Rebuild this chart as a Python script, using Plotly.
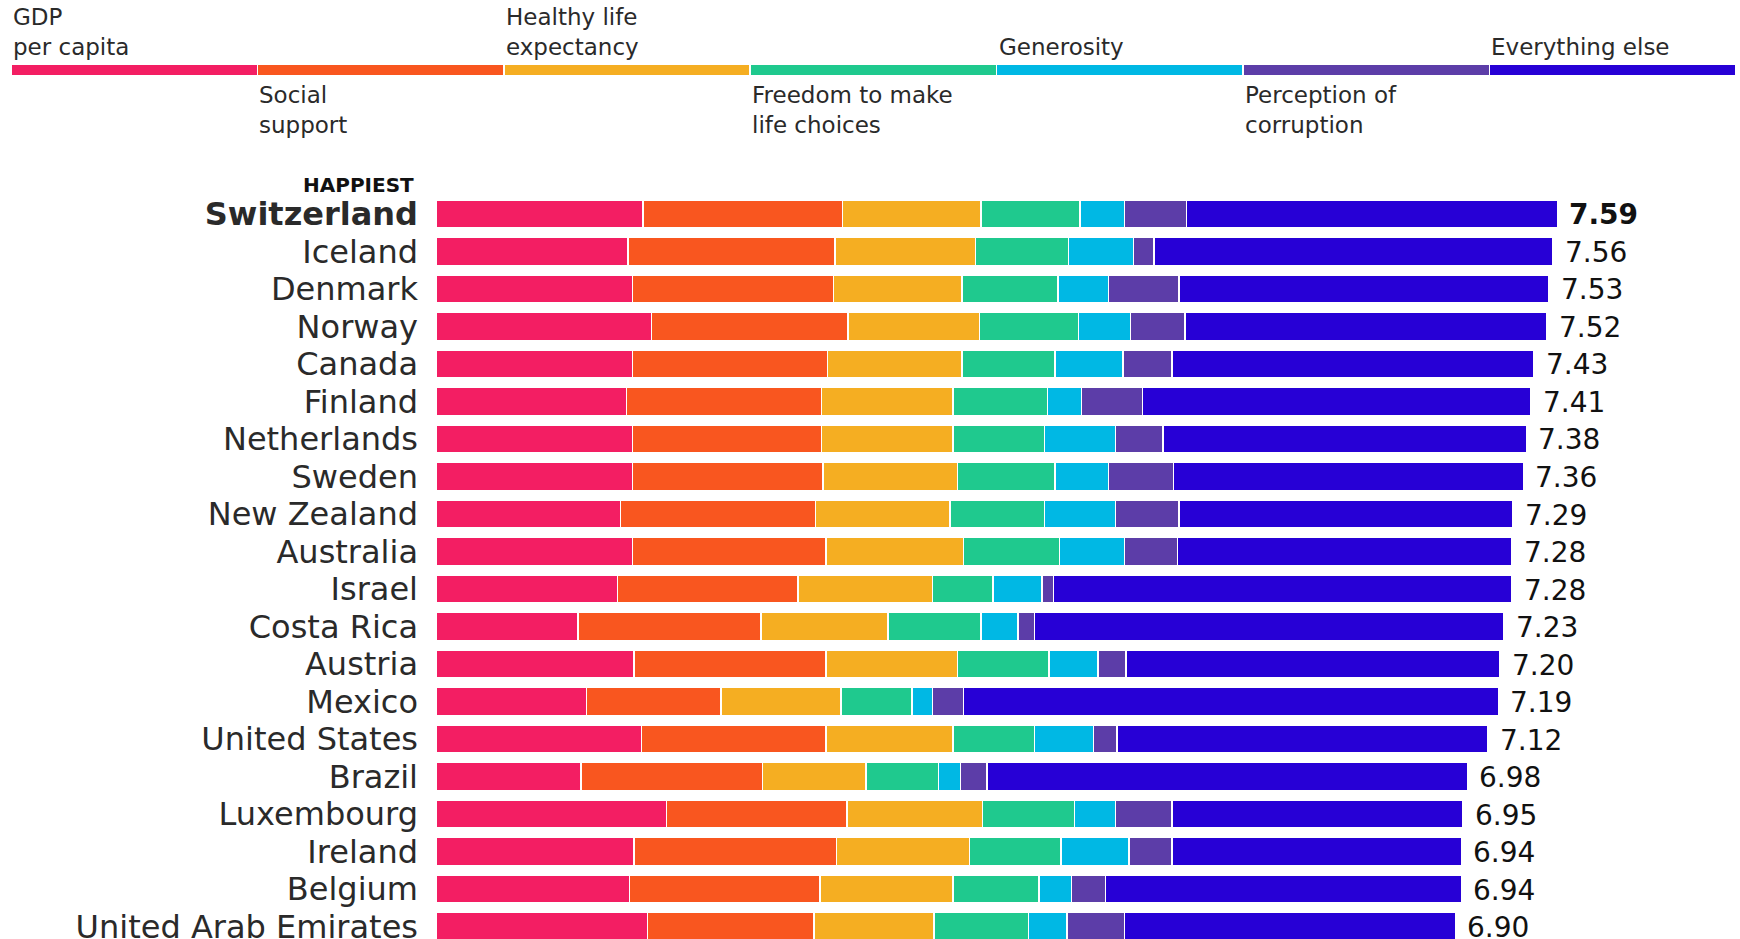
import plotly.graph_objects as go

# 2015 happiness scores, split by contributing factor
countries = [
    'Switzerland', 'Iceland', 'Denmark', 'Norway', 'Canada', 'Finland',
    'Netherlands', 'Sweden', 'New Zealand', 'Australia', 'Israel',
    'Costa Rica', 'Austria', 'Mexico', 'United States', 'Brazil',
    'Luxembourg', 'Ireland', 'Belgium', 'United Arab Emirates',
]
scores = [7.59, 7.56, 7.53, 7.52, 7.43, 7.41, 7.38, 7.36, 7.29, 7.28,
          7.28, 7.23, 7.20, 7.19, 7.12, 6.98, 6.95, 6.94, 6.94, 6.90]

gdp = [1.40, 1.30, 1.33, 1.46, 1.33, 1.29, 1.33, 1.33, 1.25, 1.33,
       1.23, 0.96, 1.34, 1.02, 1.39, 0.98, 1.56, 1.34, 1.31, 1.43]
social = [1.35, 1.40, 1.36, 1.33, 1.32, 1.32, 1.28, 1.29, 1.32, 1.31,
          1.22, 1.24, 1.30, 0.91, 1.25, 1.23, 1.22, 1.37, 1.29, 1.13]
health = [0.94, 0.95, 0.87, 0.89, 0.91, 0.89, 0.89, 0.91, 0.91, 0.93,
          0.91, 0.86, 0.89, 0.81, 0.86, 0.70, 0.92, 0.90, 0.90, 0.81]
freedom = [0.67, 0.63, 0.65, 0.67, 0.63, 0.64, 0.62, 0.66, 0.64, 0.65,
           0.41, 0.63, 0.62, 0.48, 0.55, 0.49, 0.62, 0.62, 0.58, 0.64]
generosity = [0.30, 0.44, 0.34, 0.35, 0.46, 0.23, 0.48, 0.36, 0.48, 0.44,
              0.33, 0.25, 0.33, 0.14, 0.40, 0.15, 0.28, 0.46, 0.22, 0.26]
corruption = [0.42, 0.14, 0.48, 0.37, 0.33, 0.41, 0.32, 0.44, 0.43, 0.36,
              0.08, 0.11, 0.19, 0.21, 0.16, 0.18, 0.38, 0.29, 0.23, 0.39]
everything_else = [2.51, 2.70, 2.50, 2.45, 2.45, 2.63, 2.46, 2.37, 2.26, 2.26,
                   3.10, 3.18, 2.53, 3.62, 2.51, 3.25, 1.97, 1.96, 2.41, 2.24]

factor_labels = [
    'GDP<br>per capita', 'Social<br>support', 'Healthy life<br>expectancy',
    'Freedom to make<br>life choices', 'Generosity',
    'Perception of<br>corruption', 'Everything else',
]
factor_values = [gdp, social, health, freedom, generosity, corruption, everything_else]
colors = ['#F31E63', '#F9561F', '#F5AE22', '#1FC98E', '#00B8E4', '#5C3DA8', '#2700D6']

FONT = 'DejaVu Sans'
TEXT_COLOR = '#2a2a2a'
W, H = 1740, 939
BAR_LEFT = 436       # px where the bars start
PX_PER_UNIT = 147.75
TOP = 130            # px above the bar plot area
ROW = 37.5           # px per row
FIRST_ROW = 214      # px centre of first bar

ypos = list(range(len(countries)))

fig = go.Figure()

# main stacked bars
for name, vals, color in zip(factor_labels, factor_values, colors):
    fig.add_bar(
        x=vals, y=ypos, orientation='h', width=0.74,
        marker=dict(color=color, line=dict(color='white', width=1.5)),
        name=name.replace('<br>', ' '), showlegend=False,
    )

# colour key at the top, one equal segment per factor
for i, (name, color) in enumerate(zip(factor_labels, colors)):
    fig.add_bar(
        x=[1], y=[0], orientation='h', width=0.3, xaxis='x2', yaxis='y2',
        marker=dict(color=color, line=dict(color='white', width=1.5)),
        showlegend=False, hoverinfo='skip',
    )
    above = i % 2 == 0
    fig.add_annotation(
        x=i, y=0.15 if above else -0.15, xref='x2', yref='y2',
        text=name, showarrow=False, xanchor='left', align='left',
        yanchor='bottom' if above else 'top', yshift=2 if above else -4,
        font=dict(family=FONT, size=23, color=TEXT_COLOR),
    )

# score labels at the end of each bar
for i, s in enumerate(scores):
    txt = f'{s:.2f}'
    fig.add_annotation(
        x=s, y=i, xref='x', yref='y', text=f'<b>{txt}</b>' if i == 0 else txt,
        showarrow=False, xanchor='left', yanchor='middle', xshift=10, yshift=-1,
        font=dict(family=FONT, size=28, color='#111111'),
    )

fig.add_annotation(
    x=(BAR_LEFT - 20) / W, y=-0.77, xref='paper', yref='y',
    text='<b>HAPPIEST</b>', showarrow=False, xanchor='right', yanchor='middle',
    font=dict(family=FONT, size=20, color='#111111'),
)

ticktext = [f'<b>{c}</b>' if i == 0 else c for i, c in enumerate(countries)]
plot_h = H - TOP
y_top = -(FIRST_ROW - TOP) / ROW
y_bottom = y_top + plot_h / ROW

fig.update_layout(
    width=W, height=H,
    barmode='stack',
    plot_bgcolor='white', paper_bgcolor='white',
    margin=dict(l=0, r=0, t=0, b=0),
    font=dict(family=FONT, color=TEXT_COLOR),
    xaxis=dict(
        domain=[BAR_LEFT / W, 1], range=[0, (W - BAR_LEFT) / PX_PER_UNIT],
        showgrid=False, zeroline=False, showticklabels=False,
    ),
    yaxis=dict(
        domain=[0, 1 - TOP / H], range=[y_bottom, y_top],
        tickvals=ypos, ticktext=ticktext, ticks='', ticklabelstandoff=17,
        ticklabeloverflow='allow', automargin=False,
        showgrid=False, zeroline=False,
        tickfont=dict(family=FONT, size=32, color=TEXT_COLOR),
    ),
    xaxis2=dict(
        domain=[0, 1], range=[-11 / 246.4, (W - 11) / 246.4], anchor='y2',
        visible=False,
    ),
    yaxis2=dict(
        domain=[1 - 90 / H, 1 - 50 / H], range=[-0.5, 0.5], anchor='x2',
        visible=False,
    ),
)

# drop the default page margin so the figure sits at the window's corner
fig.write_html(
    'out.html',
    config={'displayModeBar': False},
    post_script="document.body.style.margin='0';",
)
